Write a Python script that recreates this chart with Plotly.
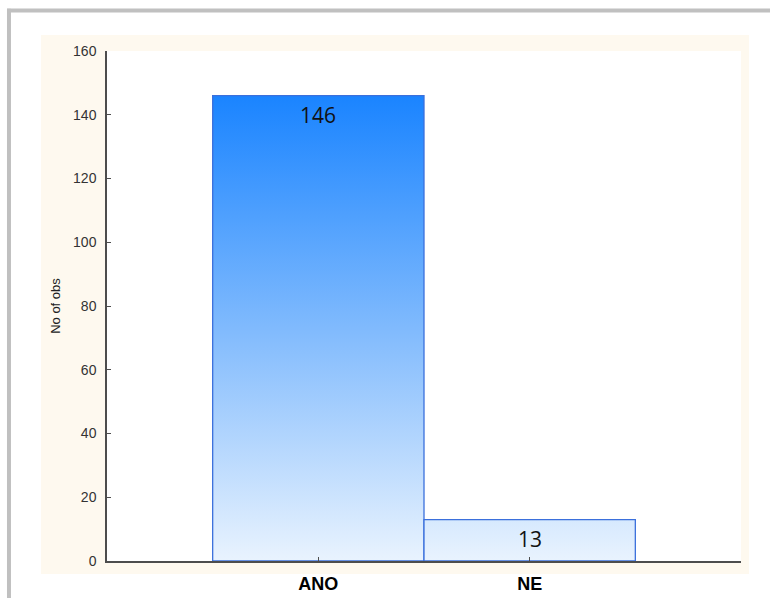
import plotly.graph_objects as go

# Frequency table: number of observations per answer
categories = ["ANO", "NE"]
counts = [146, 13]
y_ticks = [0, 20, 40, 60, 80, 100, 120, 140, 160]

AXIS_COLOR = "#4d4d4d"
EDGE_COLOR = "#3b70dc"
GRADIENT = [[0.0, "#e9f3fe"], [0.5, "#80bafd"], [1.0, "#1a84ff"]]

fig = go.Figure()

top = max(counts)
for i, (cat, v) in enumerate(zip(categories, counts)):
    # each bar spans a full category slot, filled with a vertical gradient
    fig.add_trace(go.Scatter(
        x=[i - 0.5, i - 0.5, i + 0.5, i + 0.5, i - 0.5],
        y=[0, v, v, 0, 0],
        mode="lines",
        fill="toself",
        fillgradient=dict(type="vertical", colorscale=GRADIENT, start=0, stop=top),
        line=dict(color=EDGE_COLOR, width=1.3),
        hoverinfo="skip",
        showlegend=False,
        name=cat,
    ))
    fig.add_annotation(
        x=i, y=v, text=str(v), showarrow=False,
        yanchor="middle", yshift=-19,
        font=dict(family="Open Sans", size=21, color="#111111"),
    )

# outer frame: cream panel, white plotting area, grey border on top/left
fig.add_shape(type="rect", xref="paper", yref="paper", layer="below",
              x0=-0.1041, x1=1.0126, y0=-0.0255, y1=1.0314,
              fillcolor="#fef9ef", line=dict(width=0))
fig.add_shape(type="rect", xref="paper", yref="paper", layer="below",
              x0=0, x1=1, y0=0, y1=1,
              fillcolor="#ffffff", line=dict(width=0))
fig.add_shape(type="line", xref="paper", yref="paper",
              x0=-0.1577, x1=1.06, y0=1.0794, y1=1.0794,
              line=dict(color="#c0c0c0", width=4))
fig.add_shape(type="line", xref="paper", yref="paper",
              x0=-0.1546, x1=-0.1546, y0=1.083, y1=-0.08,
              line=dict(color="#c0c0c0", width=4))

fig.update_layout(
    width=770, height=598,
    margin=dict(l=107, r=29, t=51, b=37),
    paper_bgcolor="#ffffff",
    plot_bgcolor="#ffffff",
    showlegend=False,
    xaxis=dict(
        range=[-1, 2],
        automargin=False,
        tickmode="array",
        tickvals=[-1, 0, 1, 2],
        ticktext=["", "<b>" + categories[0] + "</b>", "<b>" + categories[1] + "</b>", ""],
        ticks="inside", ticklen=4, tickwidth=1, tickcolor=AXIS_COLOR,
        showline=True, linecolor=AXIS_COLOR, linewidth=1.5,
        showgrid=False, zeroline=False,
        ticklabelstandoff=6,
        tickfont=dict(family="Liberation Sans", size=18, color="#000000"),
    ),
    yaxis=dict(
        range=[0, 160],
        automargin=False,
        tickmode="array",
        tickvals=y_ticks,
        ticks="inside", ticklen=4, tickwidth=1, tickcolor=AXIS_COLOR,
        showline=True, linecolor=AXIS_COLOR, linewidth=1.5,
        showgrid=False, zeroline=False,
        ticklabelstandoff=6,
        tickfont=dict(family="Liberation Sans", size=14, color="#333333"),
        title=dict(text="No of obs", standoff=10,
                   font=dict(family="Liberation Sans", size=13, color="#222222")),
    ),
)

fig.write_html("out.html")
